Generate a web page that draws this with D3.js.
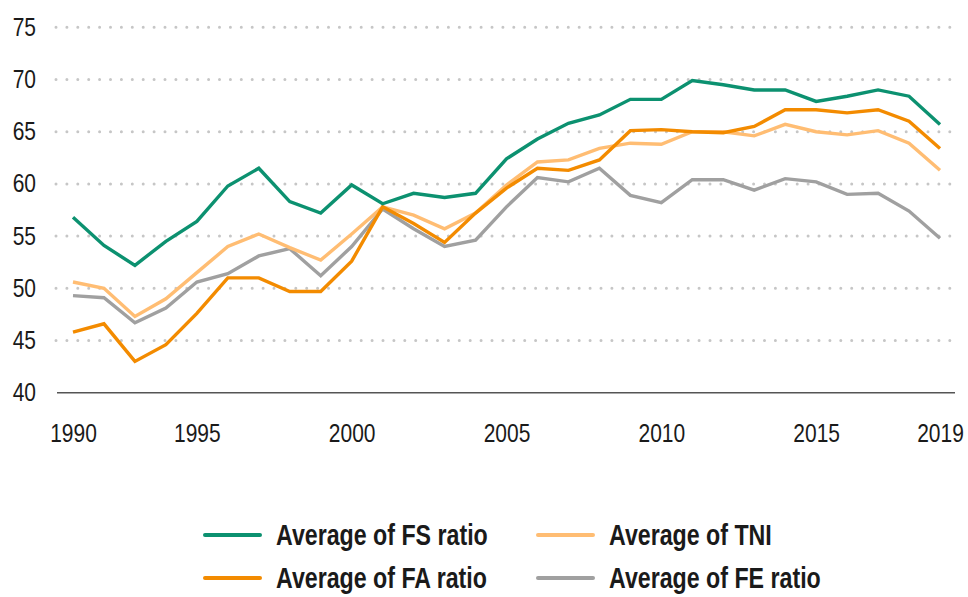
<!DOCTYPE html>
<html>
<head>
<meta charset="utf-8">
<script src="https://cdn.jsdelivr.net/npm/d3@7"></script>
<style>
  body { margin: 0; background: #fff; }
  text { font-family: "Liberation Sans", Arial, sans-serif; fill: #1a1a1a; }
</style>
</head>
<body>
<script>
var WIDTH = 968;
var HEIGHT = 597;
var SQUEEZE = "scale(0.84,1)"; // the source uses a condensed face

// years on the category axis (29 points in the source chart)
var years = [1990, 1991, 1992, 1993, 1995, 1996, 1997, 1998, 1999, 2000,
  2001, 2002, 2003, 2004, 2005, 2006, 2007, 2008, 2009, 2010,
  2011, 2012, 2013, 2014, 2015, 2016, 2017, 2018, 2019];

var tickYears = [1990, 1995, 2000, 2005, 2010, 2015, 2019];
var yTicks = [40, 45, 50, 55, 60, 65, 70, 75];

var fsRatio = [56.8, 54.1, 52.2, 54.5, 56.4, 59.8, 61.5, 58.3, 57.2, 59.9,
  58.1, 59.1, 58.7, 59.1, 62.4, 64.3, 65.8, 66.6, 68.1, 68.1,
  69.9, 69.5, 69.0, 69.0, 67.9, 68.4, 69.0, 68.4, 65.7];

var faRatio = [45.8, 46.6, 43.0, 44.6, 47.6, 51.0, 51.0, 49.7, 49.7, 52.6,
  57.8, 56.2, 54.4, 57.2, 59.6, 61.5, 61.3, 62.3, 65.1, 65.2,
  65.0, 64.9, 65.5, 67.1, 67.1, 66.8, 67.1, 66.0, 63.4];

var tni = [50.6, 50.0, 47.3, 49.0, 51.5, 54.0, 55.2, 53.9, 52.7, 55.2,
  57.8, 57.0, 55.7, 57.2, 59.9, 62.1, 62.3, 63.4, 63.9, 63.8,
  65.0, 65.0, 64.6, 65.7, 65.0, 64.7, 65.1, 63.9, 61.3];

var feRatio = [49.3, 49.1, 46.7, 48.1, 50.6, 51.4, 53.1, 53.8, 51.2, 54.0,
  57.6, 55.7, 54.0, 54.6, 57.8, 60.6, 60.2, 61.5, 58.9, 58.2,
  60.4, 60.4, 59.4, 60.5, 60.2, 59.0, 59.1, 57.4, 54.8];

var seriesNames = ["Average of FS ratio", "Average of TNI", "Average of FA ratio", "Average of FE ratio"];
var seriesColors = ["#0c9170", "#ffbd73", "#f38b00", "#a0a0a0"];

var series = [
  { name: seriesNames[0], color: seriesColors[0], values: fsRatio },
  { name: seriesNames[1], color: seriesColors[1], values: tni },
  { name: seriesNames[2], color: seriesColors[2], values: faRatio },
  { name: seriesNames[3], color: seriesColors[3], values: feRatio }
];

var svg = d3.select("body")
  .append("svg")
  .attr("width", WIDTH)
  .attr("height", HEIGHT);

var x = d3.scalePoint()
  .domain(years)
  .range([73, 940]);

var y = d3.scaleLinear()
  .domain([40, 75])
  .range([392.7, 27.3]);

// dotted gridlines
svg.append("g")
  .selectAll("line")
  .data(yTicks.filter(function (d) { return d > 40; }))
  .enter()
  .append("line")
  .attr("x1", 56)
  .attr("x2", 950)
  .attr("y1", function (d) { return y(d); })
  .attr("y2", function (d) { return y(d); })
  .attr("stroke", "#c6c6c6")
  .attr("stroke-width", 3)
  .attr("stroke-linecap", "round")
  .attr("stroke-dasharray", "0 10.9");

// y axis labels
var yAxis = svg.append("g")
  .attr("transform", "translate(36,0)")
  .call(d3.axisLeft(y).tickValues(yTicks).tickSize(0).tickPadding(0));
yAxis.select(".domain").remove();
yAxis.selectAll("text")
  .attr("font-size", "25px")
  .attr("fill", "#1a1a1a")
  .attr("transform", SQUEEZE)
  .style("font-family", null);

// x axis
var xAxis = svg.append("g")
  .attr("transform", "translate(0," + y(40) + ")")
  .call(d3.axisBottom(x).tickValues(tickYears).tickSize(0).tickPadding(32));
xAxis.select(".domain")
  .attr("d", "M57,0H955")
  .attr("stroke", "#555")
  .attr("stroke-width", 1.6);
xAxis.selectAll("text")
  .attr("font-size", "25px")
  .attr("fill", "#1a1a1a")
  .attr("transform", SQUEEZE)
  .style("font-family", null);

var line = d3.line()
  .x(function (d, i) { return x(years[i]); })
  .y(function (d) { return y(d); });

// draw back to front: gray, light orange, orange, green
var drawOrder = [series[3], series[1], series[2], series[0]];
svg.append("g")
  .selectAll("path")
  .data(drawOrder)
  .enter()
  .append("path")
  .attr("d", function (s) { return line(s.values); })
  .attr("fill", "none")
  .attr("stroke", function (s) { return s.color; })
  .attr("stroke-width", 3.4)
  .attr("stroke-linejoin", "miter");

// legend, two columns
var legend = svg.append("g")
  .selectAll("g")
  .data(series)
  .enter()
  .append("g")
  .attr("transform", function (s, i) {
    var col = i % 2, row = Math.floor(i / 2);
    return "translate(" + (col === 0 ? 205 : 538) + "," + (535 + row * 43) + ")";
  });

legend.append("line")
  .attr("x1", 0)
  .attr("x2", 55)
  .attr("stroke", function (s) { return s.color; })
  .attr("stroke-width", 4)
  .attr("stroke-linecap", "round");

legend.append("text")
  .attr("transform", "translate(71,0) scale(0.8,1)")
  .attr("dy", "0.35em")
  .attr("font-size", "29px")
  .attr("font-weight", "bold")
  .text(function (s) { return s.name; });
</script>
</body>
</html>
